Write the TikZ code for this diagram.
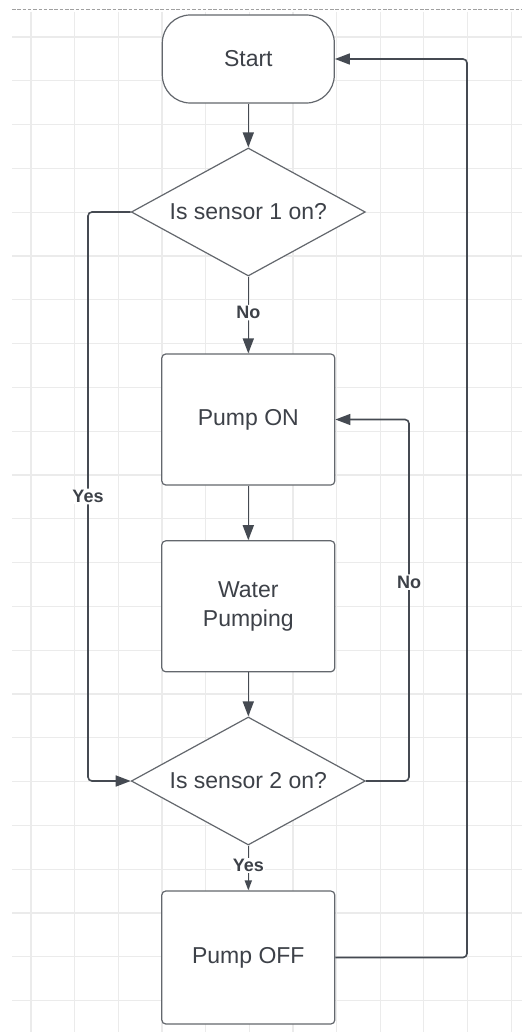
\documentclass[tikz,border=0pt]{standalone}
\usepackage{fontspec}
\setmainfont{Liberation Sans}
\usetikzlibrary{shapes.geometric,arrows.meta,calc}
\definecolor{txt}{HTML}{3D4148}
\definecolor{ln}{HTML}{454A52}
\definecolor{bd}{HTML}{63676D}
\definecolor{gridc}{HTML}{EBEBEB}
\definecolor{dotc}{HTML}{A0A0A0}
\begin{document}
\begin{tikzpicture}[x=1pt,y=-1pt,
  every node/.style={text=txt},
  box/.style={draw=bd, line width=1.2pt, rounded corners=4pt, fill=white, minimum width=173pt, minimum height=131pt, inner sep=0pt, font=\fontsize{23}{29}\selectfont, align=center},
  term/.style={box, rounded corners=28pt, minimum width=172pt, minimum height=88pt},
  dec/.style={draw=bd, line width=1.2pt, shape=diamond, aspect=1.83, minimum width=234pt, minimum height=128pt, inner sep=0pt, fill=white, font=\fontsize{23}{29}\selectfont},
  conn/.style={draw=ln, line width=1.6pt, rounded corners=4pt, -{Triangle[length=15pt,width=11pt]}},
  smallconn/.style={draw=ln, line width=1.6pt, -{Triangle[length=10pt,width=7pt]}},
  lbl/.style={fill=white, inner sep=1.5pt, font=\fontsize{18}{20}\selectfont\bfseries},
  gridline/.style={draw=gridc, line width=1.2pt}
]
\useasboundingbox (0,0) rectangle (522,1032);
\fill[white] (0,0) rectangle (522,1032);
% grid
\foreach \i in {0,...,11} \draw[gridline] ({31+43.65*\i},12) -- ({31+43.65*\i},1032);
\foreach \j in {0,...,22} \draw[gridline] (12,{37+43.8*\j}) -- (522,{37+43.8*\j});
\draw[dotc, line width=1pt, dash pattern=on 3.5pt off 1.8pt] (12,9.5) -- (522,9.5);

% nodes
\node[term] (start) at (248.3,59) {Start};
\node[dec] (d1) at (248.3,212) {Is sensor 1 on?};
\node[box] (pon) at (248.3,419.5) {Pump ON};
\node[box] (water) at (248.3,606.3) {Water\\Pumping};
\node[dec] (d2) at (248.3,781) {Is sensor 2 on?};
\node[box, minimum height=133pt] (poff) at (248.3,957.5) {Pump OFF};

\coordinate (yesx) at (88,0);
\coordinate (nox) at (409,0);
\coordinate (retx) at (467,0);

% connectors
\draw[conn] (start.south) -- (d1.north);
\draw[conn] (d1.south) -- node[lbl, pos=0.47] {No} (pon.north);
\draw[conn] (pon.south) -- (water.north);
\draw[conn] (water.south) -- (d2.north);
\draw[smallconn] (d2.south) -- node[lbl, pos=0.44] {Yes} (poff.north);
\draw[conn] (d1.west) -- (d1.west -| yesx) -- node[lbl] {Yes} (d2.west -| yesx) -- (d2.west);
\draw[conn] (d2.east) -- (d2.east -| nox) -- node[lbl, pos=0.55] {No} (pon.east -| nox) -- (pon.east);
\draw[conn] (poff.east) -- (poff.east -| retx) -- (start.east -| retx) -- (start.east);
\end{tikzpicture}
\end{document}
